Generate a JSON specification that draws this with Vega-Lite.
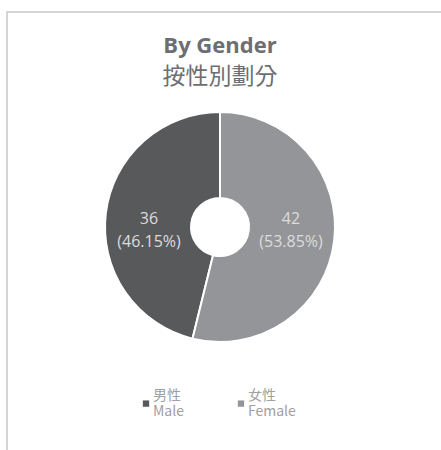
{
  "$schema": "https://vega.github.io/schema/vega-lite/v6.json",
  "width": 440,
  "height": 445,
  "autosize": {"type": "none"},
  "padding": {"left": 7, "top": 12, "right": 0, "bottom": 0},
  "background": "white",
  "view": {"stroke": "#c8c8c8", "strokeWidth": 1.5, "fill": "white"},
  "config": {
    "font": "Open Sans"
  },
  "title": {
    "text": "By Gender",
    "subtitle": "按性別劃分",
    "orient": "top",
    "anchor": "middle",
    "frame": "group",
    "offset": -78,
    "dx": -7,
    "font": "Open Sans",
    "fontSize": 22,
    "fontWeight": "bold",
    "color": "#6d6e71",
    "subtitleFont": "Noto Sans CJK TC",
    "subtitleFontSize": 23,
    "subtitleColor": "#6d6e71",
    "subtitlePadding": 8
  },
  "data": {
    "values": [
      {"gender": "男性\nMale", "count": 36, "label": "36\n(46.15%)"},
      {"gender": "女性\nFemale", "count": 42, "label": "42\n(53.85%)"}
    ]
  },
  "layer": [
    {
      "mark": {"type": "arc", "outerRadius": 115, "innerRadius": 29, "stroke": "white", "strokeWidth": 2, "xOffset": -7, "yOffset": -7.5},
      "encoding": {
        "theta": {"field": "count", "type": "quantitative", "stack": true},
        "order": {"field": "count", "type": "quantitative", "sort": "descending"},
        "color": {
          "field": "gender",
          "type": "nominal",
          "scale": {"domain": ["男性\nMale", "女性\nFemale"], "range": ["#58595b", "#939598"]},
          "legend": {
            "title": null,
            "orient": "none",
            "direction": "horizontal",
            "legendX": 132,
            "legendY": 377,
            "padding": 0,
            "symbolType": "M-1,1.4H1V3.4H-1Z",
            "symbolSize": 40,
            "symbolStrokeWidth": 0,
            "labelExpr": "split(datum.label, '\\n')",
            "labelFont": "Noto Sans CJK TC",
            "labelFontSize": 14,
            "labelColor": "#a0a0a0",
            "labelBaseline": "middle",
            "labelOffset": 0,
            "columnPadding": 50,
            "encode": {"labels": {"update": {"lineHeight": {"value": 19}}}}
          }
        }
      }
    },
    {
      "mark": {"type": "text", "lineBreak": "\n", "fontSize": 16, "font": "Open Sans", "color": "#dcdcdc", "lineHeight": 23, "dy": -15.5},
      "encoding": {
        "x": {
          "field": "gender",
          "type": "nominal",
          "scale": {"type": "point", "domain": ["男性\nMale", "女性\nFemale"], "range": [0, 426], "padding": 1.02},
          "axis": null
        },
        "text": {"field": "label", "type": "nominal"}
      }
    }
  ]
}
